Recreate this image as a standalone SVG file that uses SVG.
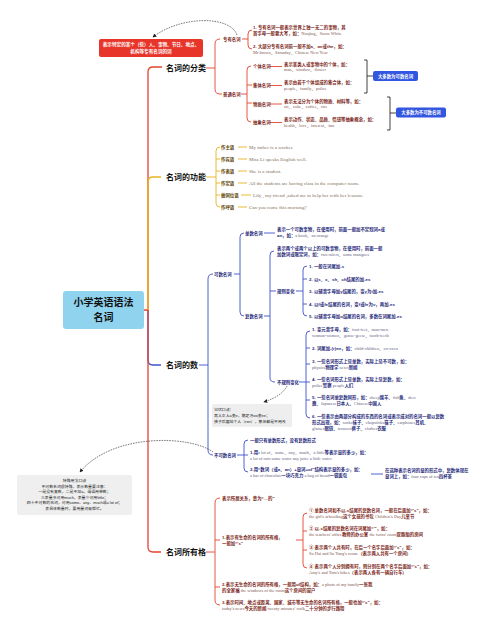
<svg xmlns="http://www.w3.org/2000/svg" width="495" height="635" viewBox="0 0 495 635">
<style>
.h{font-family:"Noto Sans CJK SC",sans-serif;font-size:8px;font-weight:bold;fill:#111}
.t{font-family:"Liberation Sans","Noto Sans CJK SC",sans-serif;font-size:4.4px;font-weight:bold}
.r{fill:#7d1f1a}
.b{fill:#1f2a7a}
.y{fill:#5a4200}
.e{font-family:"Liberation Serif","Noto Sans CJK SC",serif;font-weight:normal}
.er{fill:#80554f}
.eb{fill:#5e5e80}
.ey{fill:#7f705a;font-size:5px}
.n{font-family:"Liberation Sans","Noto Sans CJK SC",sans-serif;font-size:3.9px;fill:#222}
.lr{fill:none;stroke:#e5432e;stroke-width:0.9}
.lo{fill:none;stroke:#e6b422;stroke-width:0.9}
.lb{fill:none;stroke:#3f51d0;stroke-width:0.9}
.m{stroke-width:1.3}
.lk{fill:none;stroke:#222;stroke-width:0.6;stroke-dasharray:1.6 1}
.pill{fill:#3356e0}
.pt{font-family:"Liberation Sans","Noto Sans CJK SC",sans-serif;font-size:4.4px;font-weight:bold;fill:#fff;text-anchor:middle}
</style>
<defs>
<marker id="ah" viewBox="0 0 6 6" refX="5" refY="3" markerWidth="4" markerHeight="4" markerUnits="userSpaceOnUse" orient="auto"><path d="M0,0 L6,3 L0,6 z" fill="#222"/></marker>
</defs>
<rect width="495" height="635" fill="#fff"/>

<g id="connectors">
<path class="lr m" d="M144,310 H148 V72 Q148,67 153,67 H162"/>
<path class="lr" d="M206,68 H215 M220,39 Q215,39 215,44 V89 Q215,94 220,94 H222"/>
<path class="lr" d="M242,39 H248 M252,30 Q248,30 248,34 V45 Q248,49 252,49"/>
<path class="lr" d="M241,94 H247 M251,66 Q247,66 247,70 V118 Q247,122 251,122 M247,85 H252 M247,103 H252"/>
<path class="lr" d="M270,66.5 H282 M270,85.5 H282 M270,104 H282 M270,122.5 H282"/>
<path fill="none" stroke="#111" stroke-width="0.8" d="M364,60 H367 V93 H364 M367,76 H373"/>
<path fill="none" stroke="#111" stroke-width="0.8" d="M387,97 H390 V130 H387 M390,113 H396"/>
<path class="lo m" d="M148,310 V182 Q148,177 153,177 H161"/>
<path class="lo" d="M206,177 H216 M220,147 Q216,147 216,151 V203 Q216,207 220,207 M216,159 H220 M216,171 H220 M216,183 H220 M216,195 H220"/>
<path class="lo" d="M238,147 H247 M238,159 H247 M238,171 H247 M238,183 H247 M241,195 H251 M238,207 H247"/>
<path class="lb m" d="M148,310 V360 Q148,365 153,365 H161"/>
<path class="lb" d="M199,365 H208 M213,274 Q208,274 208,279 V450 Q208,455 213,455"/>
<path class="lb" d="M234,274 H240 M244,233 Q240,233 240,237 V312 Q240,316 244,316"/>
<path class="lb" d="M264,233 H275 M264,316 H270 M274,251 Q270,251 270,255 V378 Q270,382 275,382 M270,291 H276"/>
<path class="lb" d="M296,291 H303 M307,266 Q303,266 303,270 V312 Q303,316 307,316 M303,279 H307 M303,304 H307"/>
<path class="lb" d="M299,382 H306 M310,331 Q306,331 306,335 V414 Q306,418 310,418 M306,348 H310 M306,364 H310 M306,382 H310 M306,400 H310"/>
<path class="lb" d="M237,455 H244 M248,440 Q244,440 244,444 V468 Q244,472 248,472 M244,455 H248"/>
<path class="lb" d="M371,474 H383"/>
<path class="lr m" d="M148,310 V547 Q148,552 153,552 H161"/>
<path class="lr" d="M206,552 H215 M220,498 Q215,498 215,503 V600 Q215,605 220,605 M215,540 H220 M215,587 H220"/>
<path class="lr" d="M296,540 H303 M307,513 Q303,513 303,517 V564 Q303,568 307,568 M303,531 H307 M303,550 H307"/>
<path class="lk" d="M237,35 C230,15 180,16 153,37" marker-end="url(#ah)"/>
<path class="lk" d="M287,386 Q282,396 264,402" marker-end="url(#ah)"/>
<path class="lk" d="M213,452 C190,435 112,433 80,472" marker-end="url(#ah)"/>
</g>

<g id="center">
<rect x="63" y="291" width="81" height="38" rx="3" fill="#8fd3ee"/>
<text x="103.5" y="306" text-anchor="middle" font-family="Noto Sans CJK SC, sans-serif" font-size="10" font-weight="bold" fill="#111">小学英语语法</text>
<text x="103.5" y="321" text-anchor="middle" font-family="Noto Sans CJK SC, sans-serif" font-size="10" font-weight="bold" fill="#111">名词</text>
</g>

<g id="classification">
<text class="h" x="166" y="71">名词的分类</text>
<g id="note-proper">
<rect x="99" y="39" width="104" height="18" rx="2" fill="#e8352a"/>
<text class="pt" x="151" y="46" style="font-size:4.6px">表示特定的某个（些）人、事物、节日、地点、</text>
<text class="pt" x="151" y="53" style="font-size:4.6px">机构等专有名词的词</text>
</g>
<g id="proper">
<text class="t r" x="223" y="40.5">专有名词</text>
<text class="t r" x="253" y="28.5">1. 专有名词一般表示世界上独一无二的事物，其</text>
<text class="t r" x="253" y="34.5">首字母一般要大写，如：<tspan class="e er">Nanjing、Snow White</tspan></text>
<text class="t r" x="253" y="47.5">2. 大部分专有名词前一般不加a、an或the，如：</text>
<text class="t r" x="253" y="53.5"><tspan class="e er">Mr brown、Saturday、Chinese New Year</tspan></text>
</g>
<g id="common">
<text class="t r" x="223" y="95.5">普通名词</text>
<text class="t r" x="253" y="68">个体名词</text>
<text class="t r" x="284" y="65.5">表示某类人或事物中的个体，如：</text>
<text class="t e er" x="284" y="71">man、window、flower</text>
<text class="t r" x="253" y="87">集体名词</text>
<text class="t r" x="284" y="84">表示由若干个体组成的集合体，如：</text>
<text class="t e er" x="284" y="89.5">people、family、police</text>
<text class="t r" x="253" y="105.5">物质名词</text>
<text class="t r" x="284" y="102.5">表示无法分为个体的物质、材料等，如：</text>
<text class="t e er" x="284" y="108">air、coke、coffee、rice</text>
<text class="t r" x="253" y="124">抽象名词</text>
<text class="t r" x="284" y="121">表示动作、状态、品质、情感等抽象概念，如：</text>
<text class="t e er" x="284" y="126.5">health、love、interest、fun</text>
</g>
<g id="pill-countable">
<rect class="pill" x="373" y="71" width="45" height="10" rx="2"/>
<text class="pt" x="395.5" y="77.5">大多数为可数名词</text>
</g>
<g id="pill-uncountable">
<rect class="pill" x="396" y="107.5" width="50" height="10" rx="2"/>
<text class="pt" x="421" y="114">大多数为不可数名词</text>
</g>
</g>

<g id="function">
<text class="h" x="166" y="180">名词的功能</text>
<text class="t y" x="221" y="148.5">作主语</text>
<text class="t e ey" x="249" y="148.7">My father is a worker.</text>
<text class="t y" x="221" y="160.5">作宾语</text>
<text class="t e ey" x="249" y="160.7">Miss Li speaks English well.</text>
<text class="t y" x="221" y="172.5">作表语</text>
<text class="t e ey" x="249" y="172.7">She is a student.</text>
<text class="t y" x="221" y="184.5">作定语</text>
<text class="t e ey" x="249" y="184.7">All the students are having class in the computer room.</text>
<text class="t y" x="221" y="196.5">做同位语</text>
<text class="t e ey" x="253" y="196.7">Lily , my friend ,asked me to help her with her lessons.</text>
<text class="t y" x="221" y="208.5">作呼语</text>
<text class="t e ey" x="249" y="208.7">Can you come this morning?</text>
</g>

<g id="number">
<text class="h" x="166" y="368">名词的数</text>
<g id="countable">
<text class="t b" x="214" y="275.5">可数名词</text>
<text class="t b" x="245" y="234.5">单数名词</text>
<text class="t b" x="277" y="230.5">表示一个可数事物，在使用时，前面一般加不定冠词a或</text>
<text class="t b" x="277" y="236.5">an，如：<tspan class="e eb">a book、an orange</tspan></text>
<text class="t b" x="245" y="317.5">复数名词</text>
<text class="t b" x="277" y="249.5">表示两个或两个以上的可数事物，在使用时，前面一般</text>
<text class="t b" x="277" y="255.5">加数词或限定词，如：<tspan class="e eb">two rulers、some mangoes</tspan></text>
<text class="t b" x="277" y="292.5">规则变化</text>
<text class="t b" x="309" y="267.5">1. 一般在词尾加-s</text>
<text class="t b" x="309" y="280.5">2. 以s、x、sh、ch结尾的加-es</text>
<text class="t b" x="309" y="292.5">3. 以辅音字母加y结尾的，变y为i加-es</text>
<text class="t b" x="309" y="305.5">4. 以f或fe结尾的名词，变f或fe为v，再加-es</text>
<text class="t b" x="309" y="317.5">5. 以辅音字母加o结尾的名词，多数在词尾加-es</text>
<text class="t b" x="277" y="383.5">不规则变化</text>
<text class="t b" x="312" y="330.5">1. 变元音字母，如：<tspan class="e eb">foot-feet、man-men</tspan></text>
<text class="t e eb" x="312" y="336.5">woman-women、goose-geese、tooth-teeth</text>
<text class="t b" x="312" y="349.5">2. 词尾加-(r)en，如：<tspan class="e eb">child-children、ox-oxen</tspan></text>
<text class="t b" x="312" y="362.5">3. 一些名词形式上是单数，实际上是不可数，如：</text>
<text class="t b" x="312" y="368.5"><tspan class="e eb">physics</tspan>物理学  <tspan class="e eb">news</tspan>新闻</text>
<text class="t b" x="312" y="380.5">4. 一些名词形式上是单数，实际上是复数，如：</text>
<text class="t b" x="312" y="386.5"><tspan class="e eb">police</tspan>警察  <tspan class="e eb">people</tspan>人们</text>
<text class="t b" x="312" y="398.5">5. 一些名词单复数同形，如：<tspan class="e eb">sheep</tspan>绵羊、<tspan class="e eb">fish</tspan>鱼、<tspan class="e eb">deer</tspan></text>
<text class="t b" x="312" y="404.5">鹿、<tspan class="e eb">Japanese</tspan>日本人、<tspan class="e eb">Chinese</tspan>中国人</text>
<text class="t b" x="312" y="417.5">6. 一些表示由两部分构成的东西的名词或表示成对的名词一般以复数</text>
<text class="t b" x="312" y="423.5">形式出现，如：<tspan class="e eb">socks</tspan>袜子、<tspan class="e eb">chopsticks</tspan>筷子、<tspan class="e eb">earphones</tspan>耳机、</text>
<text class="t b" x="312" y="429.5"><tspan class="e eb">glasses</tspan>眼镜、<tspan class="e eb">trousers</tspan>裤子、<tspan class="e eb">clothes</tspan>衣服</text>
</g>
<g id="memo">
<rect x="212" y="404" width="80" height="23" rx="1.5" fill="#eeeeee"/>
<text class="n" x="214" y="411">记忆口诀：</text>
<text class="n" x="214" y="417">男人女人a变e，鹅足牙oo变ee；</text>
<text class="n" x="214" y="423">孩子后面加个人（ren），集体都是不用改</text>
</g>
<g id="uncountable">
<text class="t b" x="214" y="456.5">不可数名词</text>
<text class="t b" x="250" y="441.5">一般只有单数形式，没有复数形式</text>
<text class="t b" x="250" y="453.5">1.用<tspan class="e eb">a lot of、some、any、much、a little</tspan>等表示量的多少，如：</text>
<text class="t e eb" x="250" y="459.5">a lot of rain  some water  any juice  a little water</text>
<text class="t b" x="250" y="470.5">2.用“数词（或a、an）+量词+of”结构表示量的多少，如：</text>
<text class="t b" x="250" y="477"><tspan class="e eb">a bar of chocolate</tspan>一块巧克力  <tspan class="e eb">a bag of bread</tspan>一袋面包</text>
<text class="t b" x="385" y="471.5">在这种表示名词的量的形式中，复数体现在</text>
<text class="t b" x="385" y="477.5">量词上，如：<tspan class="e eb">four cups of tea</tspan>四杯茶</text>
</g>
<g id="note-uncountable">
<rect x="17" y="475" width="115" height="40" rx="2" fill="#efefef"/>
<text class="n" x="74.5" y="482" text-anchor="middle">特殊用法口诀</text>
<text class="n" x="74.5" y="487.5" text-anchor="middle">不可数名词很特殊，表示数量要注意：</text>
<text class="n" x="74.5" y="493" text-anchor="middle">一是没有复数，二是不加a，谓语用单数；</text>
<text class="n" x="74.5" y="498.5" text-anchor="middle">三表量多可用much，表量少可用little；</text>
<text class="n" x="74.5" y="504" text-anchor="middle">四十不可数的名词，可用some、any、much或a lot of；</text>
<text class="n" x="74.5" y="509.5" text-anchor="middle">表具体数量时，要用量词来帮忙。</text>
</g>
</g>

<g id="possessive">
<text class="h" x="166" y="555">名词所有格</text>
<text class="t r" x="222" y="499.5">表示所属关系，意为“…的”</text>
<text class="t r" x="222" y="538.5">1.表示有生命的名词的所有格，</text>
<text class="t r" x="222" y="544.5">一般加“'s”</text>
<text class="t r" x="309" y="511.5">① 单数名词和不以-s结尾的复数名词，一般在后面加“'s”，如：</text>
<text class="t r" x="309" y="517.5"><tspan class="e er">the girl's schoolbag</tspan>这个女孩的书包  <tspan class="e er">Children's Day</tspan>儿童节</text>
<text class="t r" x="309" y="530">② 以-s结尾的复数名词在词尾加“'”，如：</text>
<text class="t r" x="309" y="536"><tspan class="e er">the teachers' office</tspan>教师的办公室  <tspan class="e er">the twins' room</tspan>双胞胎的房间</text>
<text class="t r" x="309" y="548.5">③ 表示两个人共有时，在后一个名字后面加“'s”，如：</text>
<text class="t r" x="309" y="554.5"><tspan class="e er">Su Hai and Su Yang's room.</tspan>（表示两人共有一个房间）</text>
<text class="t r" x="309" y="567.5">④ 表示两个人分别拥有时，则分别在两个名字后面加“'s”，如：</text>
<text class="t r" x="309" y="573.5"><tspan class="e er">Amy's and Tom's bikes</tspan>（表示两人各有一辆自行车）</text>
<text class="t r" x="222" y="585.5">2.表示无生命的名词的所有格，一般用of结构，如：<tspan class="e er">a photo of my family</tspan>一张我</text>
<text class="t r" x="222" y="591.5">的全家福    <tspan class="e er">the windows of the room</tspan>这个房间的窗户</text>
<text class="t r" x="222" y="603.5">3.表示时间、地点或距离、国家、城市等无生命的名词所有格，一般也加“'s”，如：</text>
<text class="t r" x="222" y="609.5"><tspan class="e er">today's news</tspan>今天的新闻    <tspan class="e er">twenty minutes' walk</tspan>二十分钟的步行路程</text>
</g>
</svg>
